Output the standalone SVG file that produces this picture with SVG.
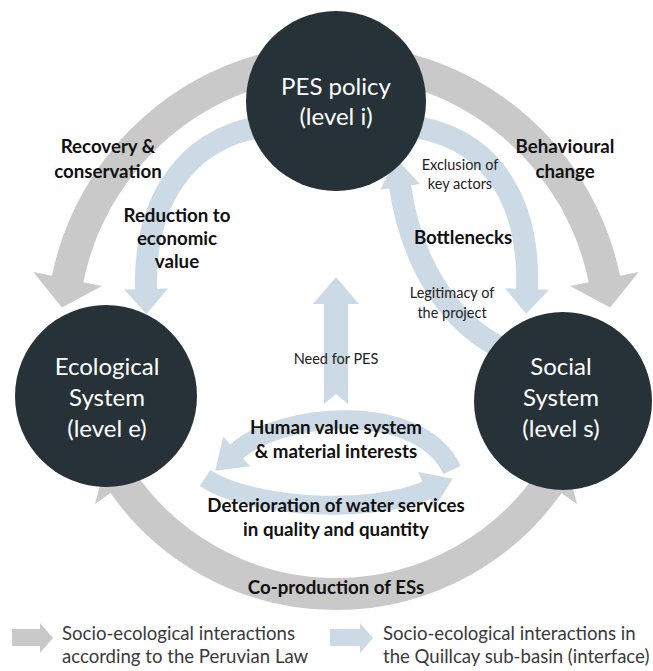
<svg xmlns="http://www.w3.org/2000/svg" width="653" height="671" viewBox="0 0 653 671">
<style>
.g{fill:none;stroke:#c9c9c9;stroke-width:32}
.b{fill:none;stroke:#ccdae6;stroke-width:22}
.bt{fill:none;stroke:#ccdae6;stroke-width:19}
.node circle{fill:#263238}
.node text{fill:#fff;font-family:Lato,"Liberation Sans",sans-serif;font-size:24px;text-anchor:middle}
.lbl{fill:#111;font-family:Lato,"Liberation Sans",sans-serif;font-size:18.7px;font-weight:bold;text-anchor:middle}
.sm{fill:#222;font-family:Lato,"Liberation Sans",sans-serif;font-size:14.5px;text-anchor:middle}
.leg{fill:#3a3a3a;font-family:Lato,"Liberation Sans",sans-serif;font-size:18.6px}
</style>
<defs>
<marker id="hg" markerUnits="userSpaceOnUse" orient="auto" viewBox="-2 -40 40 80" markerWidth="40" markerHeight="80" refX="0" refY="0">
<path d="M-1,-35 L28,0 L-1,35 Z" fill="#c9c9c9"/>
</marker>
<marker id="hg2" markerUnits="userSpaceOnUse" orient="auto-start-reverse" viewBox="-2 -40 40 80" markerWidth="40" markerHeight="80" refX="0" refY="0">
<path d="M-1,-35 L28,0 L-1,35 Z" fill="#c9c9c9"/>
</marker>
<marker id="hb" markerUnits="userSpaceOnUse" orient="auto" viewBox="-2 -30 40 60" markerWidth="40" markerHeight="60" refX="0" refY="0">
<path d="M-1,-22 L24,0 L-1,22 Z" fill="#ccdae6"/>
</marker>
<marker id="hbs" markerUnits="userSpaceOnUse" orient="auto" viewBox="-2 -30 40 60" markerWidth="40" markerHeight="60" refX="0" refY="0">
<path d="M-1,-20 L28,0 L-1,20 Z" fill="#ccdae6"/>
</marker>
</defs>
<rect width="653" height="671" fill="#fff"/>
<g id="connectors">
<path id="recovery" class="g" d="M326.4,60.2 A274,274 0 0 0 67.4,280" marker-end="url(#hg)"/>
<path id="behavioural" class="g" d="M345.6,60.2 A274,274 0 0 1 604.6,280" marker-end="url(#hg)"/>
<path id="coproduction" class="g" d="M123,483.1 A260,260 0 0 0 549,483.1" marker-start="url(#hg2)" marker-end="url(#hg2)"/>
<path id="reduction" class="b" d="M272,125 C182,135 144,205 146,290" marker-end="url(#hb)"/>
<path id="exclusion" class="b" d="M400,125 C495,133 530,205 527,290" marker-end="url(#hb)"/>
<path id="legitimacy" class="b" d="M510,352 C445,325 410,255 400,186" marker-end="url(#hbs)"/>
<polygon id="needpes" points="336,277 359,304 348,304 348,404 336,394 324,404 324,304 313,304" fill="#ccdae6"/>
<path id="humanvalue" class="bt" d="M452,470 C420,400 280,412 236,452" marker-end="url(#hbs)"/>
<path id="deterioration" class="bt" d="M205,478 C250,508 370,515 427,490" marker-end="url(#hbs)"/>
</g>
<g id="node-pes" class="node">
<circle cx="336" cy="101" r="90"/>
<text x="336" y="95">PES policy</text>
<text x="336" y="125">(level i)</text>
</g>
<g id="node-eco" class="node">
<circle cx="106" cy="396" r="91"/>
<text x="107" y="375">Ecological</text>
<text x="107" y="406">System</text>
<text x="107" y="437">(level e)</text>
</g>
<g id="node-social" class="node">
<circle cx="563" cy="401" r="89"/>
<text x="561" y="375">Social</text>
<text x="561" y="406">System</text>
<text x="561" y="437">(level s)</text>
</g>
<g id="labels">
<text class="lbl" x="108" y="153">Recovery &amp;</text>
<text class="lbl" x="108" y="178">conservation</text>
<text class="lbl" x="565" y="153">Behavioural</text>
<text class="lbl" x="565" y="178">change</text>
<text class="lbl" x="177" y="222">Reduction to</text>
<text class="lbl" x="177" y="245">economic</text>
<text class="lbl" x="177" y="268">value</text>
<text class="sm" x="460" y="170">Exclusion of</text>
<text class="sm" x="460" y="189">key actors</text>
<text class="lbl" x="463" y="244">Bottlenecks</text>
<text class="sm" x="452" y="298">Legitimacy of</text>
<text class="sm" x="452" y="318">the project</text>
<text class="sm" x="336" y="364">Need for PES</text>
<text class="lbl" x="336" y="434">Human value system</text>
<text class="lbl" x="336" y="458">&amp; material interests</text>
<text class="lbl" x="336" y="512">Deterioration of water services</text>
<text class="lbl" x="336" y="536">in quality and quantity</text>
<text class="lbl" x="336" y="594">Co-production of ESs</text>
</g>
<g id="legend">
<polygon points="12,629 40,629 40,623 53,638 40,653 40,646 12,646" fill="#c9c9c9"/>
<text class="leg" x="62" y="640">Socio-ecological interactions</text>
<text class="leg" x="62" y="663">according to the Peruvian Law</text>
<polygon points="330,629 360,629 360,623 373,638 360,653 360,646 330,646" fill="#ccdae6"/>
<text class="leg" x="383" y="640">Socio-ecological interactions in</text>
<text class="leg" x="383" y="663">the Quillcay sub-basin (interface)</text>
</g>
</svg>
